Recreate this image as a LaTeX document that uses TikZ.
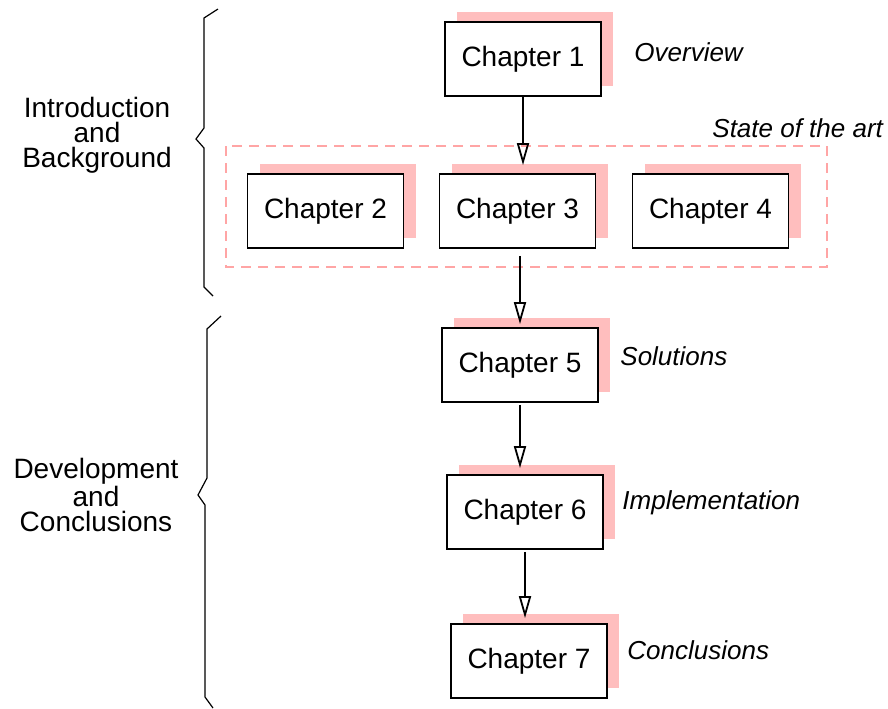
\documentclass[tikz,border=0pt]{standalone}
\usepackage{fontspec}
\setmainfont{Liberation Sans}
\usetikzlibrary{arrows.meta,shadows}
\definecolor{shadowpink}{RGB}{255,190,190}
\definecolor{dashpink}{RGB}{255,165,165}

\begin{document}
\begin{tikzpicture}[x=0.5pt,y=-0.5pt,
  chap/.style={draw,line width=0.85pt,fill=white,minimum width=78pt,minimum height=37pt,
    font=\fontsize{14}{16}\selectfont,
    general shadow={fill=shadowpink,shadow xshift=6pt,shadow yshift=5pt}},
  note/.style={anchor=west,inner sep=0pt,font=\fontsize{13}{15}\selectfont\itshape},
  part/.style={align=center,inner sep=0pt,font=\fontsize{14}{12.5}\selectfont},
  brace/.style={line width=0.6pt}]
\useasboundingbox (0,0) rectangle (888,708);

% group of state of the art chapters
\draw[dashpink,line width=1pt,dash pattern=on 5pt off 3.5pt] (226,146) rectangle (827,267);

\node[chap] (c1) at (523,59)    {Chapter 1};
\node[chap] (c2) at (325.5,211) {Chapter 2};
\node[chap] (c3) at (517.5,211) {Chapter 3};
\node[chap] (c4) at (710.5,211) {Chapter 4};
\node[chap] (c5) at (520,365)   {Chapter 5};
\node[chap] (c6) at (525,512)   {Chapter 6};
\node[chap] (c7) at (529,661)   {Chapter 7};

\node[note] (n1) at (634,52)  {Overview};
\node[note] (n2) at (712,128) {State of the art};
\node[note] (n5) at (620,356) {Solutions};
\node[note] (n6) at (622,503) {Implementation};
\node[note] (n7) at (627,650) {Conclusions};

\node[part] (p1) at (97,135) {Introduction\\and\\Background};
\node[part] (p2) at (96,495) {Development\\and\\Conclusions};

\path[-{Triangle[open,length=11pt,width=6pt]},line width=0.9pt]
    (c1.south) edge [shorten >=4pt] (c1.south |- c3.north)
    (c5.north |- c3.south) edge [shorten <=3.5pt,shorten >=1.5pt] (c5.north)
    (c5.south) edge [shorten <=1pt,shorten >=3pt] (c5.south |- c6.north)
    (c6.south) edge [shorten <=1pt,shorten >=2.5pt] (c6.south |- c7.north);

% braces
\draw[brace] (218,9) -- (204,18) -- (204,128) -- (196,139) -- (204,148) -- (204,287) -- (213,296);
\draw[brace] (221,316) -- (207,329) -- (207,478) -- (198,495) -- (205,505) -- (205,697) -- (213,708);
\end{tikzpicture}
\end{document}
